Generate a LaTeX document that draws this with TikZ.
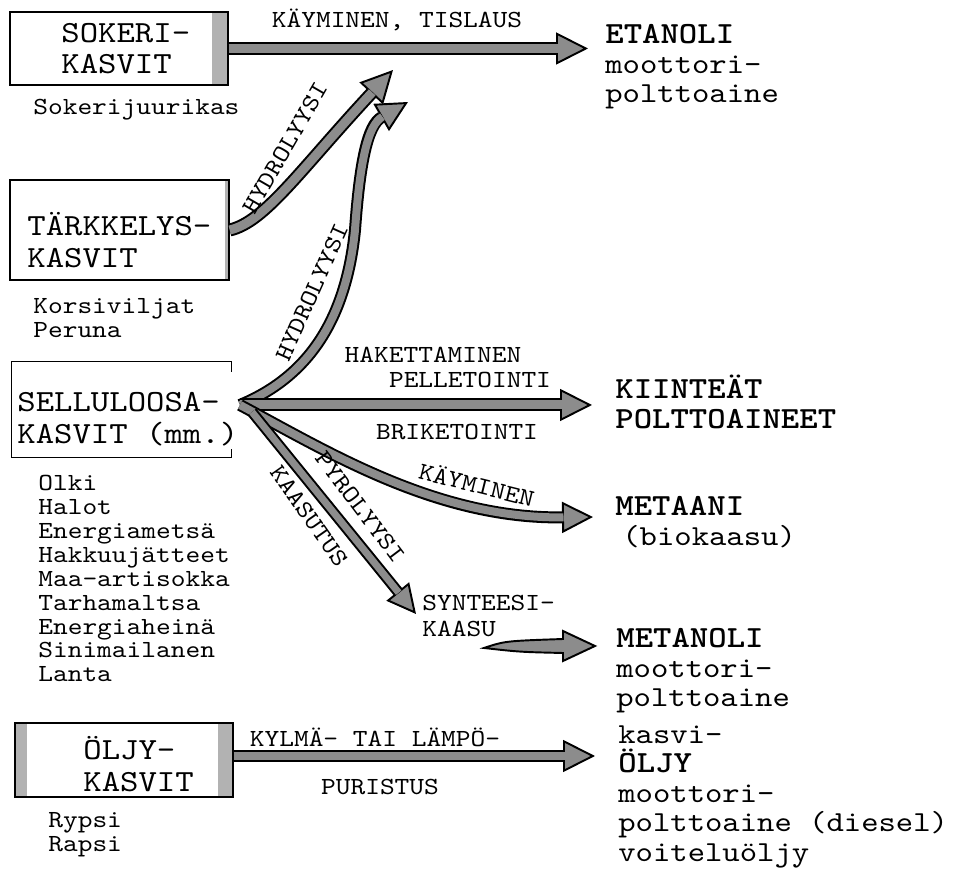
\documentclass[tikz,border=0pt]{standalone}
\usepackage{fontspec}
\setmainfont{lmmono10-regular}[Extension=.otf,BoldFont=lmmonolt10-bold,FakeStretch=1.14]
\usetikzlibrary{arrows.meta}
\definecolor{dotgray}{gray}{0.55}
\definecolor{stripgray}{gray}{0.7}
\newcommand\ptitle[1]{{\fontsize{17.5}{16.8}\selectfont\bfseries #1}}
\begin{document}
\begin{tikzpicture}[x=0.02cm,y=-0.02cm,
    cropbox/.style={draw,line width=0.8pt,inner sep=0},
    strips/.style 2 args={path picture={
        \fill[stripgray](path picture bounding box.north west)rectangle([xshift=#1]path picture bounding box.south west);
        \fill[stripgray]([xshift=-#2]path picture bounding box.north east)rectangle(path picture bounding box.south east);}},
    boxtext/.style={font=\fontsize{17.5}{18}\selectfont,align=left,inner sep=0,anchor=west},
    croptext/.style={font=\fontsize{14}{13.6}\selectfont,align=left,inner sep=0,anchor=north west},
    product/.style={font=\fontsize{16.5}{16.8}\selectfont,align=left,inner sep=0,anchor=north west},
    lbl/.style={font=\fontsize{14}{14}\selectfont,inner sep=0},
    flow/.style n args={3}{line width=#1,-{Triangle[length=#3,width=#3,fill=dotgray,line width=1.1pt]},
        postaction={draw=dotgray,line width=#2,shorten >=#3-0.03cm,arrows=-}}]
  \useasboundingbox(0,0)rectangle(954,881);
  \node[cropbox,strips={0pt}{0.32cm},minimum width=4.36cm,minimum height=1.46cm](sokeri)at(119,48.5){};
  \node[boxtext](sokeritext)at(61,48.5){SOKERI-\\KASVIT};
  \node[croptext,anchor=west](sokerilist)at(33,110){Sokerijuurikas};
  \node[cropbox,strips={0pt}{0.08cm},minimum width=4.38cm,minimum height=2cm](tarkkelys)at(119.5,230){};
  \node[boxtext](tarkkelystext)at(27,240){TÄRKKELYS-\\KASVIT};
  \node[croptext](tarkkelyslist)at(33,298){Korsiviljat\\Peruna};
  \node[inner sep=0,minimum width=4.38cm,minimum height=1.9cm](selluloosa)at(121.5,409.5){};
  \draw[line width=0.8pt](selluloosa.north east)++(0,10)--(selluloosa.north east)--(selluloosa.north west)
    --(selluloosa.south west)--(selluloosa.south east)--++(0,-8);
  \node[boxtext](selluloosatext)at(17,419){SELLULOOSA-\\KASVIT (mm.)};
  \node[croptext](selluloosalist)at(38,475){Olki\\Halot\\Energiametsä\\Hakkuujätteet\\Maa-artisokka\\Tarhamaltsa\\Energiaheinä\\Sinimailanen\\Lanta};
  \node[cropbox,strips={0.24cm}{0.3cm},minimum width=4.36cm,minimum height=1.48cm](oljy)at(124,760){};
  \node[boxtext](oljytext)at(83,764){ÖLJY-\\KASVIT};
  \node[croptext](oljylist)at(48,812){Rypsi\\Rapsi};
  \node[product](etanoli)at(605,24){\ptitle{ETANOLI}\\moottori-\\polttoaine};
  \node[product](kiinteat)at(615,375){\ptitle{KIINTEÄT}\\\ptitle{POLTTOAINEET}};
  \node[product](metaani)at(615,496){\ptitle{METAANI}\\\hspace*{4pt}(biokaasu)};
  \node[product](metanoli)at(616,628){\ptitle{METANOLI}\\moottori-\\polttoaine};
  \node[product](kasvioljy)at(618,725){kasvi-\\\ptitle{ÖLJY}\\moottori-\\polttoaine (diesel)\\voiteluöljy};
  \coordinate(fan)at(240,405);
  \coordinate(gasstart)at(252,412);
  \coordinate(etanolitip)at(588,48.5);
  \coordinate(hydtipa)at(393,70);
  \coordinate(hydtipb)at(408,102);
  \coordinate(kiinteattip)at(592,405);
  \coordinate(metaanitip)at(593,517);
  \coordinate(synttip)at(416,614);
  \coordinate(syntstart)at(484,648);
  \coordinate(metanolitip)at(595,646);
  \coordinate(oljytip)at(595,756);
  \draw[flow={0.26cm}{0.18cm}{0.64cm}](sokeri.east)--(etanolitip);
  \draw[flow={0.26cm}{0.18cm}{0.64cm}](tarkkelys.east)..controls(265,222)and(300,170)..(hydtipa);
  \draw[flow={0.24cm}{0.16cm}{0.62cm}](fan)..controls(300,380)and(345,330)..(355,230)..controls(360,160)and(368,125)..(hydtipb);
  \draw[flow={0.26cm}{0.18cm}{0.64cm}](fan)--(kiinteattip);
  \draw[flow={0.24cm}{0.16cm}{0.62cm}](fan)..controls(325,450)and(435,519)..(metaanitip);
  \draw[flow={0.22cm}{0.14cm}{0.58cm}](gasstart)--(synttip);
  \filldraw[fill=dotgray,line width=1.1pt](syntstart)..controls(505,641)..(563,639)--(563,631)--(metanolitip)--(563,661)--(563,653)..controls(520,652)..(syntstart)--cycle;
  \draw[flow={0.26cm}{0.18cm}{0.64cm}](oljy.east|-oljytip)--(oljytip);
  \node[lbl](tislaus)at(397,20){KÄYMINEN, TISLAUS};
  \node[lbl,rotate=60](hydra)at(285,148){HYDROLYYSI};
  \node[lbl,rotate=66](hydrb)at(312,292){HYDROLYYSI};
  \node[lbl](hakettaminen)at(433,355){HAKETTAMINEN};
  \node[lbl](pelletointi)at(470,380){PELLETOINTI};
  \node[lbl](briketointi)at(457,432){BRIKETOINTI};
  \node[lbl,rotate=-14](kayminen)at(477,484){KÄYMINEN};
  \node[lbl,rotate=-55](kaasutus)at(309,516){KAASUTUS};
  \node[lbl,rotate=-53](pyrolyysi)at(360,507){PYROLYYSI};
  \node[croptext,font=\fontsize{14}{14.7}\selectfont](synteesi)at(422,595){SYNTEESI-\\KAASU};
  \node[lbl](kylma)at(375,737){KYLMÄ- TAI LÄMPÖ-};
  \node[lbl](puristus)at(380,787){PURISTUS};
\end{tikzpicture}
\end{document}
